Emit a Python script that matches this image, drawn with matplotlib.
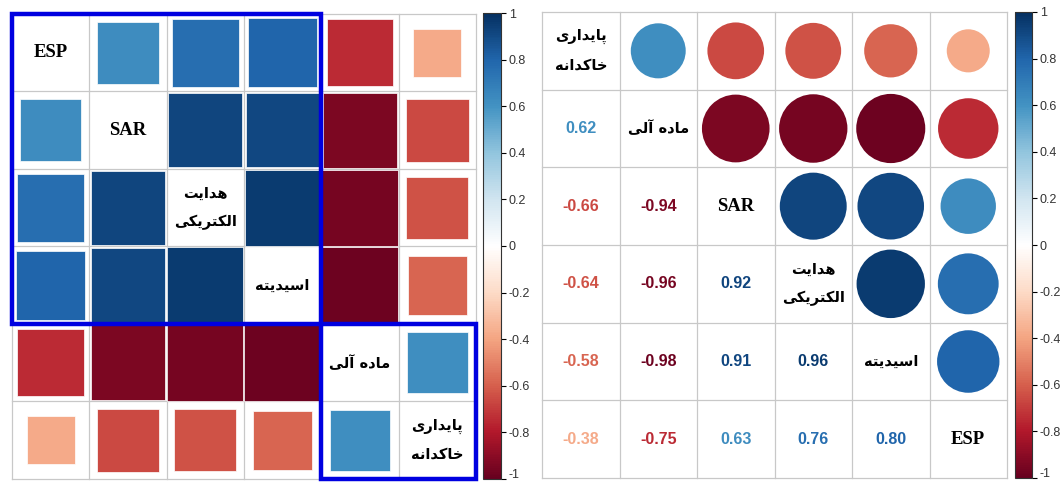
import matplotlib
matplotlib.use("Agg")
import matplotlib.pyplot as plt
import matplotlib.transforms as mtransforms
from matplotlib.colors import LinearSegmentedColormap, Normalize
from matplotlib.cm import ScalarMappable
from matplotlib.patches import Rectangle, Circle
import numpy as np

# ---------------------------
# Datos (orden del panel izquierdo)
# ---------------------------
labels = ["ESP", "SAR", "هدایت\nالکتریکی", "اسیدیته", "ماده آلی", "پایداری\nخاکدانه"]
corr = [
    [1.00, 0.63, 0.76, 0.80, -0.75, -0.38],
    [0.63, 1.00, 0.92, 0.91, -0.94, -0.66],
    [0.76, 0.92, 1.00, 0.96, -0.96, -0.64],
    [0.80, 0.91, 0.96, 1.00, -0.98, -0.58],
    [-0.75, -0.94, -0.96, -0.98, 1.00, 0.62],
    [-0.38, -0.66, -0.64, -0.58, 0.62, 1.00],
]
order_right = [5, 4, 1, 2, 3, 0]          # orden del panel derecho
clusters = [(0, 4), (4, 2)]               # (inicio, tamaño) de los rectángulos azules
cbar_ticks = [-1, -0.8, -0.6, -0.4, -0.2, 0, 0.2, 0.4, 0.6, 0.8, 1]

# paleta RdBu de corrplot
cmap = LinearSegmentedColormap.from_list("rdbu", [
    "#67001F", "#B2182B", "#D6604D", "#F4A582", "#FDDBC7", "#FFFFFF",
    "#D1E5F0", "#92C5DE", "#4393C3", "#2166AC", "#053061"])
norm = Normalize(-1, 1)

# --- formas contextuales del persa (matplotlib no hace "shaping") ---
FORMS = {
    "\u0627": ("\uFE8D", "\uFE8E", None, None),
    "\u0622": ("\uFE81", "\uFE82", None, None),
    "\u062F": ("\uFEA9", "\uFEAA", None, None),
    "\u0631": ("\uFEAD", "\uFEAE", None, None),
    "\u067E": ("\uFB56", "\uFB57", "\uFB58", "\uFB59"),
    "\u06CC": ("\uFBFC", "\uFBFD", "\uFBFE", "\uFBFF"),
    "\u062E": ("\uFEA5", "\uFEA6", "\uFEA7", "\uFEA8"),
    "\u06A9": ("\uFB8E", "\uFB8F", "\uFB90", "\uFB91"),
    "\u0646": ("\uFEE5", "\uFEE6", "\uFEE7", "\uFEE8"),
    "\u0647": ("\uFEE9", "\uFEEA", "\uFEEB", "\uFEEC"),
    "\u0645": ("\uFEE1", "\uFEE2", "\uFEE3", "\uFEE4"),
    "\u0644": ("\uFEDD", "\uFEDE", "\uFEDF", "\uFEE0"),
    "\u062A": ("\uFE95", "\uFE96", "\uFE97", "\uFE98"),
    "\u0633": ("\uFEB1", "\uFEB2", "\uFEB3", "\uFEB4"),
}


def is_fa(text):
    return any(c in FORMS for c in text)


def fa(text):
    if not is_fa(text):
        return text
    lines = []
    for line in text.split("\n"):
        out = []
        for k, ch in enumerate(line):
            f = FORMS.get(ch)
            if f is None:
                out.append(ch)
                continue
            prev = line[k - 1] if k > 0 else ""
            nxt = line[k + 1] if k + 1 < len(line) else ""
            jp = prev in FORMS and FORMS[prev][2] is not None
            jn = f[2] is not None and nxt in FORMS
            out.append(f[3] if (jp and jn) else f[1] if jp else f[2] if jn else f[0])
        lines.append("".join(reversed(out)))
    return "\n".join(lines)


W, H = 1063, 483
fig = plt.figure(figsize=(W / 100, H / 100), dpi=100)


def px_axes(x0, y0, x1, y1):
    return fig.add_axes([x0 / W, 1 - y1 / H, (x1 - x0) / W, (y1 - y0) / H])


def diag_label(ax, x, y, text):
    if is_fa(text):
        ax.text(x, y, fa(text), family="DejaVu Sans", fontweight="bold", fontsize=10.5,
                ha="center", va="center", linespacing=2.1, color="black")
    else:
        ax.text(x, y, text, family="Liberation Serif", fontweight="bold", fontsize=13.5,
                ha="center", va="center", color="black")


def grid(ax, n):
    ax.set_xlim(0, n)
    ax.set_ylim(n, 0)
    ax.axis("off")
    for k in range(n + 1):
        ax.plot([k, k], [0, n], color="#C8C8C8", lw=0.9, zorder=1, clip_on=False)
        ax.plot([0, n], [k, k], color="#C8C8C8", lw=0.9, zorder=1, clip_on=False)


def colorbar(x0, y0, x1, y1):
    cax = px_axes(x0, y0, x1, y1)
    cb = fig.colorbar(ScalarMappable(norm=norm, cmap=cmap), cax=cax, ticks=cbar_ticks)
    cb.outline.set_linewidth(0.8)
    cb.outline.set_edgecolor("#333333")
    cb.ax.set_yticklabels([f"{t:g}" for t in cbar_ticks])
    cb.ax.tick_params(length=3.5, width=0.8, pad=2, labelsize=9, labelcolor="#333333")
    tls = cb.ax.get_yticklabels()
    for t in tls:
        t.set_family("Liberation Sans")
    # subir un poco el "-1" para que no quede cortado en el borde inferior
    tls[0].set_transform(tls[0].get_transform() +
                         mtransforms.ScaledTranslation(0, 4 / 72, fig.dpi_scale_trans))


n = len(labels)
C = np.array(corr)

# ================
# Panel izquierdo — método "square"
# ================
ax1 = px_axes(12, 14, 476, 479)
grid(ax1, n)
for i in range(n):
    for j in range(n):
        r = C[i, j]
        if i == j:
            diag_label(ax1, j + 0.5, i + 0.5, labels[i])
            continue
        s = np.sqrt(abs(r))
        ax1.add_patch(Rectangle((j + 0.5 - s / 2, i + 0.5 - s / 2), s, s,
                                facecolor=cmap(norm(r)), edgecolor="white", lw=0.5, zorder=2))
for start, size in clusters:
    ax1.add_patch(Rectangle((start, start), size, size, fill=False, edgecolor="#0000E0",
                            lw=3.2, zorder=5, clip_on=False))
colorbar(483, 13, 501, 479)

# ================
# Panel derecho — círculos arriba, números abajo
# ================
ax2 = px_axes(542, 12, 1007, 478)
grid(ax2, n)
R = C[np.ix_(order_right, order_right)]
for i in range(n):
    for j in range(n):
        r = R[i, j]
        if i == j:
            diag_label(ax2, j + 0.5, i + 0.5, labels[order_right[i]])
        elif j > i:
            ax2.add_patch(Circle((j + 0.5, i + 0.5), 0.45 * np.sqrt(abs(r)),
                                 facecolor=cmap(norm(r)), edgecolor="none", zorder=2))
        else:
            ax2.text(j + 0.5, i + 0.5, f"{r:.2f}", color=cmap(norm(r)), fontsize=11.5,
                     fontweight="bold", family="Liberation Sans", ha="center", va="center")
colorbar(1015, 12, 1032, 478)

fig.savefig("out.png", dpi=100)
